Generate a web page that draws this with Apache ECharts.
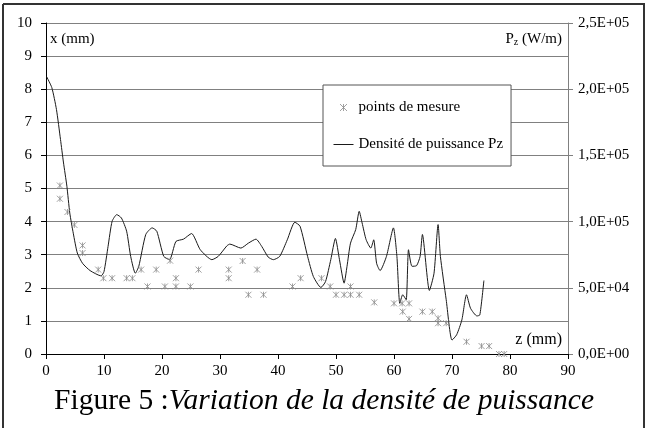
<!DOCTYPE html>
<html><head><meta charset="utf-8">
<script src="https://cdn.jsdelivr.net/npm/echarts@6/dist/echarts.min.js"></script>
<style>html,body{margin:0;padding:0;background:#fff}#c{width:648px;height:428px}</style>
</head><body><div id="c"></div>
<script>
// Measurement points: z (mm) and x (mm)
const measZ = [2.4,2.4,3.7,4.9,6.3,6.3,9.0,9.9,11.4,13.9,14.9,16.4,17.5,19.0,20.5,21.4,22.4,22.4,24.9,26.3,31.5,31.5,33.9,34.9,36.4,37.5,42.5,43.9,47.5,49.0,50.0,51.4,52.5,52.5,54.0,56.6,60.0,61.4,62.6,61.5,62.6,64.9,66.6,67.6,67.6,69.0,72.5,75.1,76.4,78.1,79.0];
const measX = [5.09,4.69,4.29,3.90,3.28,3.05,2.55,2.29,2.29,2.29,2.29,2.55,2.04,2.55,2.04,2.82,2.29,2.04,2.04,2.55,2.55,2.29,2.81,1.79,2.55,1.79,2.04,2.29,2.29,2.04,1.79,1.79,1.79,2.04,1.79,1.56,1.53,1.53,1.53,1.28,1.06,1.28,1.28,1.08,0.93,0.93,0.37,0.24,0.24,0,0];
// Power density Pz (W/m) along z (mm)
const lineZ = [0.1,1.0,1.8,2.5,3.0,3.6,4.1,4.7,5.4,6.3,7.6,9.5,10.0,10.7,11.4,12.2,13.0,13.9,14.6,15.4,16.0,17.2,18.3,19.1,20.3,21.3,22.4,23.7,25.1,26.6,28.6,29.7,31.2,31.7,33.6,34.9,36.2,37.2,38.3,39.2,40.3,41.6,42.9,43.8,45.1,46.1,47.4,48.2,49.1,49.9,50.6,51.4,51.9,52.5,53.4,54.0,54.5,55.2,56.0,56.5,57.0,57.6,58.7,59.9,60.5,61.0,61.5,62.1,62.5,63.1,63.9,64.5,64.9,66.1,66.9,67.6,68.0,69.0,70.0,70.8,71.7,72.5,73.2,74.3,74.8,75.5];
const linePz = [209500,201250,184750,162000,145000,126750,106500,91250,76250,68500,63000,59000,62250,81250,100250,105250,102750,92750,73750,61000,66250,90250,95250,92750,73750,71250,85000,86750,91000,78750,71250,73750,81750,83000,80000,83750,86750,81250,73250,71250,73750,86250,99500,96500,73750,58500,50250,54750,71250,87250,71250,53500,66250,83750,94000,107750,99000,86250,80000,86250,68500,63000,73750,95250,73750,38250,44750,41000,78750,66250,66750,73750,90250,48000,61000,97750,73750,41000,10500,14500,25750,44750,34500,28750,29500,55500];
const rightTickLabels = ['0,0E+00','5,0E+04','1,0E+05','1,5E+05','2,0E+05','2,5E+05'];
const seriesNames = ['points de mesure','Densité de puissance Pz'];

const FONT = '"Liberation Serif","Times New Roman",serif';
const chart = echarts.init(document.getElementById('c'), null, {renderer:'canvas'});
const star = 'path://M0,0L10,10M10,0L0,10M5,0L5,10';
const starStyle = {color:'rgba(0,0,0,0)',borderColor:'#8a8a8a',borderWidth:1};
const lineIcon = 'path://M0,0L0,0M0,3.5L20,3.5M20,7L20,7';
chart.setOption({
  animation:false,
  backgroundColor:'#fff',
  textStyle:{fontFamily:FONT},
  grid:{left:46,right:80,top:23,bottom:74},
  legend:{
    left:323, top:85, orient:'vertical',
    backgroundColor:'#fff', borderColor:'#555', borderWidth:1,
    padding:[15,8,14,10], itemWidth:20, itemHeight:7, itemGap:22,
    textStyle:{fontFamily:FONT,fontSize:15,color:'#000'},
    data:[
      {name:seriesNames[0],icon:star,itemStyle:starStyle},
      {name:seriesNames[1],icon:lineIcon,itemStyle:{color:'rgba(0,0,0,0)',borderColor:'#1a1a1a',borderWidth:1}}
    ]
  },
  xAxis:{type:'value',min:0,max:90,interval:10,
    axisLine:{lineStyle:{color:'#000'}},
    axisTick:{show:true,length:5,lineStyle:{color:'#000'}},
    axisLabel:{color:'#000',fontFamily:FONT,fontSize:15,margin:10},
    splitLine:{show:false}},
  yAxis:[
    {type:'value',min:0,max:10,interval:1,position:'left',
      axisLine:{show:true,lineStyle:{color:'#000'}},
      axisTick:{show:true,length:5,lineStyle:{color:'#000'}},
      axisLabel:{color:'#000',fontFamily:FONT,fontSize:15,margin:14},
      splitLine:{show:true,lineStyle:{color:'#808080',width:1}}},
    {type:'value',min:0,max:250000,interval:50000,position:'right',
      axisLine:{show:true,lineStyle:{color:'#808080'}},
      axisTick:{show:true,length:5,lineStyle:{color:'#808080'}},
      axisLabel:{color:'#000',fontFamily:FONT,fontSize:15,margin:10,
        formatter:(v)=>rightTickLabels[Math.round(v/50000)]},
      splitLine:{show:false}}
  ],
  series:[
    {name:seriesNames[0],type:'scatter',yAxisIndex:0,symbol:star,symbolSize:6,
      itemStyle:starStyle,
      data:measZ.map((z,i)=>[z,measX[i]]),z:3},
    {name:seriesNames[1],type:'line',yAxisIndex:1,symbol:'none',showSymbol:false,smooth:0.2,
      lineStyle:{color:'#1a1a1a',width:1},itemStyle:{color:'#1a1a1a'},
      data:lineZ.map((z,i)=>[z,linePz[i]]),z:2}
  ],
  graphic:[
    {type:'line',shape:{x1:3,y1:4,x2:645,y2:4},style:{stroke:'#333',lineWidth:2}},
    {type:'line',shape:{x1:3,y1:4,x2:3,y2:428},style:{stroke:'#333',lineWidth:2}},
    {type:'line',shape:{x1:644,y1:4,x2:644,y2:428},style:{stroke:'#333',lineWidth:2}},
    {type:'text',left:50,top:32,style:{text:'x (mm)',font:'15px '+FONT,fill:'#000'}},
    {type:'text',right:86,top:32,style:{text:'P{s|z} (W/m)',font:'15px '+FONT,fill:'#000',
      rich:{s:{fontSize:10,fontFamily:FONT,verticalAlign:'bottom',padding:[6,0,0,0]}}}},
    {type:'text',right:86,top:332,style:{text:'z (mm)',font:'16px '+FONT,fill:'#000'}},
    {type:'text',left:'center',top:386,style:{text:'Figure 5 :{i|Variation de la densité de puissance}',
      font:'29.5px '+FONT,fill:'#000',rich:{i:{fontStyle:'italic',fontSize:29.5,fontFamily:FONT}}}}
  ]
});
</script></body></html>
